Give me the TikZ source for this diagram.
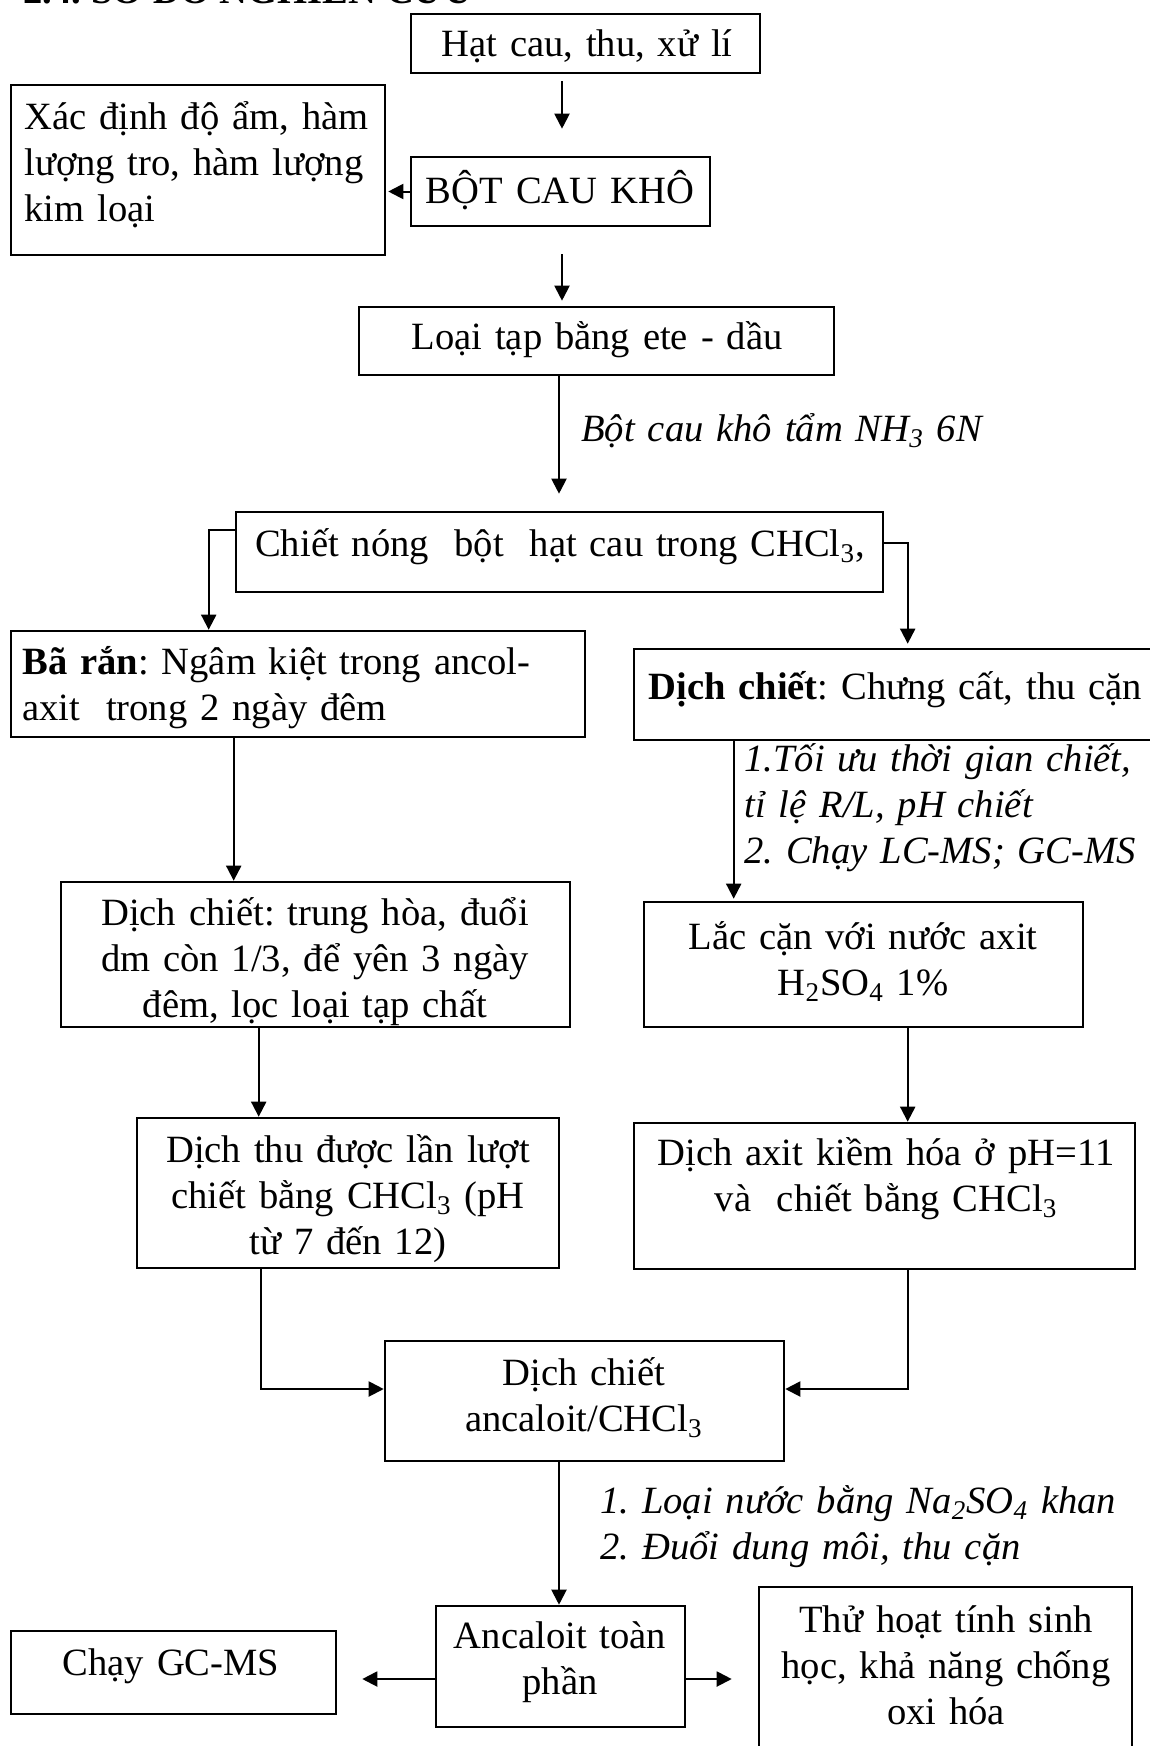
\documentclass[tikz,border=0pt]{standalone}
\usepackage{fontspec}
\setmainfont{Liberation Serif}
\usetikzlibrary{arrows.meta,calc}
\begin{document}
\frenchspacing
\begin{tikzpicture}[x=0.5pt,y=-0.5pt,
 box/.style={draw,line width=1.3pt,inner sep=0pt},
 arr/.style={line width=1pt,-{Triangle[length=7.5pt,width=7.5pt]}},
 txt/.style={inner sep=0pt,font=\fontsize{19.3}{23}\selectfont},
 ctxt/.style={txt,align=center,text width=340pt,anchor=base},
 ltxt/.style={txt,align=left,text width=300pt,anchor=base west},
 lbl/.style={ltxt,font=\fontsize{19.3}{23}\selectfont\itshape}]
\useasboundingbox (0,0) rectangle (1150,1746);
\clip (0,0) rectangle (1150,1746);

% title (cut off at the top)
\node[txt,anchor=base east,font=\fontsize{19.3}{23}\selectfont\bfseries] (title) at (473,3) {2.4. SƠ ĐỒ NGHIÊN CỨU};

% boxes
\node[box,minimum width=174.5pt,minimum height=29.5pt] (A) at (585.5,43.5) {};
\node[box,minimum width=187pt,minimum height=85pt] (B) at (198,170) {};
\node[box,minimum width=149.5pt,minimum height=34.5pt] (C) at (560.5,191.5) {};
\node[box,minimum width=237.5pt,minimum height=34pt] (D) at (596.5,341) {};
\node[box,minimum width=323.5pt,minimum height=40pt] (E) at (559.5,552) {};
\node[box,minimum width=287pt,minimum height=53pt] (F) at (298,684) {};
\node[box,minimum width=263pt,minimum height=45.5pt] (G) at (897,694.5) {};
\node[box,minimum width=254.5pt,minimum height=72.5pt] (H) at (315.5,954.5) {};
\node[box,minimum width=219.5pt,minimum height=62.5pt] (I) at (863.5,964.5) {};
\node[box,minimum width=211pt,minimum height=75pt] (J) at (348,1193) {};
\node[box,minimum width=250.5pt,minimum height=73pt] (K) at (884.5,1196) {};
\node[box,minimum width=199.5pt,minimum height=60pt] (L) at (584.5,1401) {};
\node[box,minimum width=124.5pt,minimum height=60.5pt] (M) at (560.5,1666.5) {};
\node[box,minimum width=162.5pt,minimum height=41.5pt] (N) at (173.5,1672.5) {};
\node[box,minimum width=186.5pt,minimum height=91.5pt] (O) at (945.5,1678.5) {};

% texts
\node[ctxt] (tA) at (587,56) {Hạt cau, thu, xử lí};
\node[ltxt] (tB) at (24,129) {Xác định độ ẩm, hàm\\lượng tro, hàm lượng\\kim loại};
\node[ctxt] (tC) at (560,203) {BỘT CAU KHÔ};
\node[ctxt] (tD) at (597,349) {Loại tạp bằng ete - dầu};
\node[lbl] (l1) at (581,441) {Bột cau khô tẩm NH\textsubscript{3} 6N};
\node[ctxt] (tE) at (560,556) {Chiết nóng~ bột~ hạt cau trong CHCl\textsubscript{3},};
\node[ltxt] (tF) at (22,674) {\textbf{Bã rắn}: Ngâm kiệt trong ancol-\\axit~ trong 2 ngày đêm};
\node[ltxt] (tG) at (648,699) {\textbf{Dịch chiết}: Chưng cất, thu cặn};
\node[lbl] (l2) at (744,771) {1.Tối ưu thời gian chiết,\\tỉ lệ R/L, pH chiết\\2. Chạy LC-MS; GC-MS};
\node[ctxt] (tH) at (315,925) {Dịch chiết: trung hòa, đuổi\\dm còn 1/3, để yên 3 ngày\\đêm, lọc loại tạp chất};
\node[ctxt] (tI) at (863,949) {Lắc cặn với nước axit\\H\textsubscript{2}SO\textsubscript{4} 1\%};
\node[ctxt] (tJ) at (348,1162) {Dịch thu được lần lượt\\chiết bằng CHCl\textsubscript{3} (pH\\từ 7 đến 12)};
\node[ctxt] (tK) at (886,1165) {Dịch axit kiềm hóa ở~pH=11\\và~ chiết bằng CHCl\textsubscript{3}};
\node[ctxt] (tL) at (584,1385) {Dịch chiết\\ancaloit/CHCl\textsubscript{3}};
\node[lbl] (l3) at (600,1513) {1. Loại nước bằng Na\textsubscript{2}SO\textsubscript{4} khan\\2. Đuổi dung môi, thu cặn};
\node[ctxt] (tM) at (560,1648) {Ancaloit toàn\\phần};
\node[ctxt] (tN) at (171,1675) {Chạy GC-MS};
\node[ctxt] (tO) at (946,1632) {Thử hoạt tính sinh\\học, khả năng chống\\oxi hóa};

% connectors
\draw[arr,shorten <=3.5pt,shorten >=13.5pt] ([xshift=-11.75pt]A.south) -- ([xshift=-11.75pt]A.south |- C.north);
\draw[arr,shorten >=1pt] (C.west) -- (B.east |- C.west);
\draw[arr,shorten <=13.5pt,shorten >=2.5pt] ([xshift=0.75pt]C.south) -- ([xshift=0.75pt]C.south |- D.north);
\draw[arr,shorten >=8.5pt] ([xshift=-18.75pt]D.south) -- ([xshift=-18.75pt]D.south |- E.north);
\draw[arr] ([yshift=-9.5pt]E.north west) -| ([xshift=99.5pt]F.north west);
\draw[arr,shorten >=2pt] ([yshift=-16pt]E.north east) -| ([xshift=137.5pt]G.north west);
\draw[arr] ([xshift=112pt]F.south west) -- ([xshift=112pt]F.south west |- H.north);
\draw[arr,shorten >=1pt] ([xshift=50.5pt]G.south west) -- ([xshift=50.5pt]G.south west |- I.north);
\draw[arr] ([xshift=99.5pt]H.south west) -- ([xshift=99.5pt]H.south west |- J.north);
\draw[arr] ([xshift=132.5pt]I.south west) -- ([xshift=132.5pt]I.south west |- K.north);
\draw[arr] ([xshift=62.5pt]J.south west) |- ([yshift=6pt]L.west);
\draw[arr] ([xshift=137.5pt]K.south west) |- ([yshift=6pt]L.east);
\draw[arr] ([xshift=-12.75pt]L.south) -- ([xshift=-12.75pt]L.south |- M.north);
\draw[arr,shorten >=12.5pt] ([yshift=-6.25pt]M.west) -- ([yshift=-6.25pt]M.west -| N.east);
\draw[arr,shorten >=13pt] ([yshift=-6.25pt]M.east) -- ([yshift=-6.25pt]M.east -| O.west);
\end{tikzpicture}
\end{document}
